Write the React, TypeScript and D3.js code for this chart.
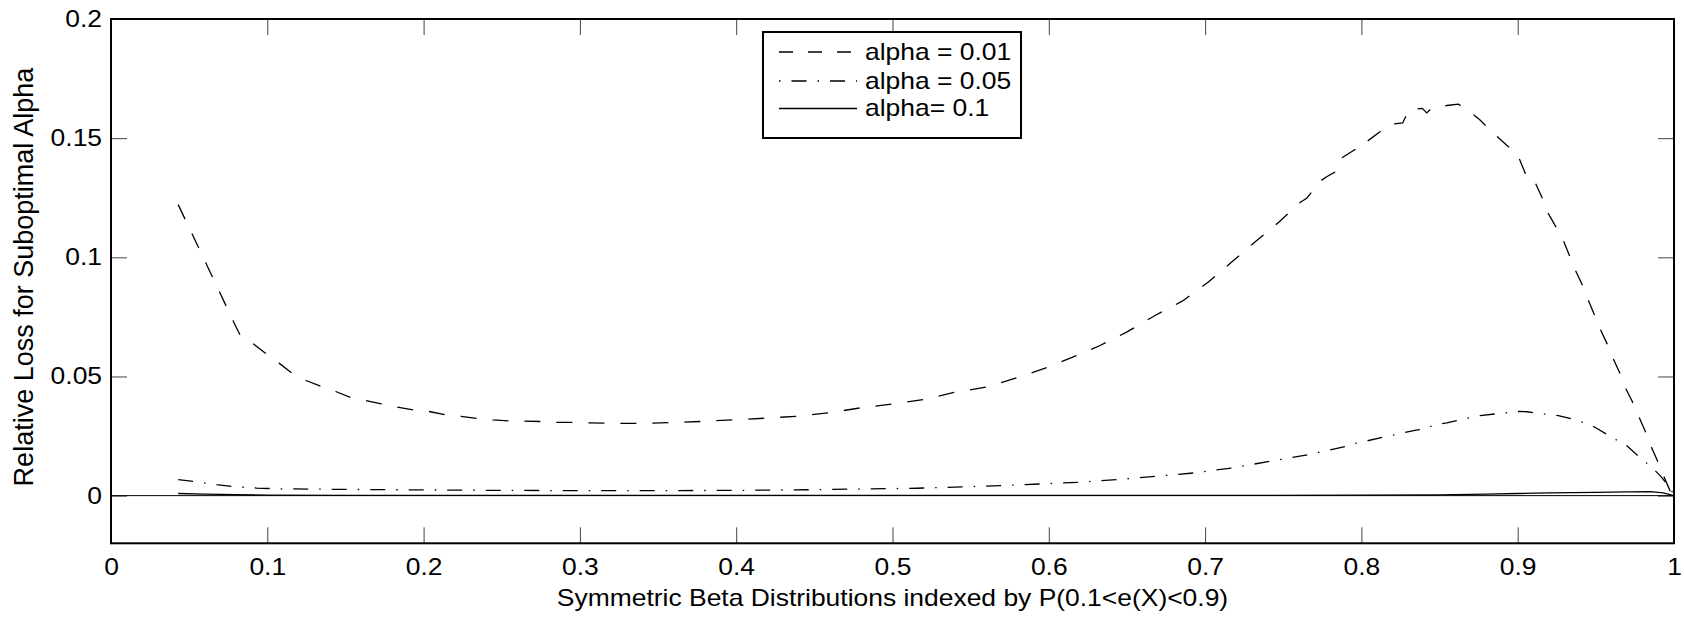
import React, { useEffect, useRef } from "react";
import * as d3 from "d3";

// tick values
const xTicks = [0, 0.1, 0.2, 0.3, 0.4, 0.5, 0.6, 0.7, 0.8, 0.9, 1];
const yTicks = [0, 0.05, 0.1, 0.15, 0.2];
const legendLabels = ["alpha = 0.01", "alpha = 0.05", "alpha= 0.1"];

// alpha = 0.01 (dashed)
const xAlpha01 = [
  0.043, 0.0516, 0.0604, 0.0693, 0.078, 0.0825, 0.091, 0.0992, 0.1075, 0.1156,
  0.1248, 0.1342, 0.1438, 0.1531, 0.1632, 0.1729, 0.1832, 0.1934, 0.2035, 0.2135,
  0.2239, 0.234, 0.2442, 0.2544, 0.2647, 0.2749, 0.2852, 0.2954, 0.3056, 0.3159,
  0.3261, 0.3363, 0.3466, 0.3768, 0.398, 0.4184, 0.4387, 0.4589, 0.4792, 0.4995,
  0.5197, 0.5393, 0.5598, 0.5794, 0.5986, 0.6178, 0.6328, 0.6498, 0.668, 0.6856,
  0.7021, 0.717, 0.7319, 0.7473, 0.7607, 0.765, 0.7746, 0.7778, 0.7831, 0.7867,
  0.7959, 0.8002, 0.8023, 0.8119, 0.8177, 0.8264, 0.8305, 0.839, 0.8418, 0.846,
  0.8546, 0.862, 0.869, 0.8759, 0.883, 0.893, 0.9, 0.905, 0.909, 0.9164,
  0.919, 0.9239, 0.9292, 0.9331, 0.9367, 0.941, 0.9448, 0.9488, 0.9527, 0.957,
  0.9608, 0.9651, 0.9687, 0.973, 0.9772, 0.9814, 0.9851, 0.9889, 0.9928, 0.9974,
  1.0,
];
const lossAlpha01 = [
  0.1221, 0.1102, 0.098, 0.0857, 0.0735, 0.0675, 0.0637, 0.0595, 0.0556, 0.0515,
  0.0483, 0.0459, 0.0437, 0.0412, 0.0399, 0.0385, 0.0371, 0.036, 0.0353, 0.034,
  0.0333, 0.0324, 0.0318, 0.0314, 0.0313, 0.0311, 0.0308, 0.0307, 0.0305, 0.0304,
  0.0303, 0.0303, 0.0304, 0.0311, 0.0318, 0.0325, 0.0333, 0.0347, 0.0368, 0.0384,
  0.0403, 0.0433, 0.0455, 0.0494, 0.0537, 0.0588, 0.063, 0.0686, 0.0756, 0.0817,
  0.0896, 0.098, 0.1064, 0.1148, 0.123, 0.1248, 0.1324, 0.1338, 0.1358, 0.1414,
  0.1452, 0.1482, 0.148, 0.1527, 0.1558, 0.1564, 0.162, 0.1625, 0.1606, 0.1632,
  0.1637, 0.1643, 0.1613, 0.1576, 0.153, 0.147, 0.143, 0.135, 0.1345, 0.1239,
  0.119, 0.1134, 0.1071, 0.1008, 0.0948, 0.0889, 0.0826, 0.0763, 0.07, 0.064,
  0.0579, 0.0518, 0.0455, 0.0399, 0.0336, 0.0273, 0.021, 0.0154, 0.0091, 0.0021,
  0,
];

// alpha = 0.05 (dash-dot)
const xAlpha05 = [
  0.043, 0.0527, 0.0676, 0.078, 0.093, 0.106, 0.1167, 0.15, 0.2, 0.25,
  0.3, 0.35, 0.4, 0.45, 0.5155, 0.5699, 0.5944, 0.6189, 0.6434, 0.668,
  0.6925, 0.717, 0.7415, 0.766, 0.7906, 0.7948, 0.814, 0.835, 0.8418, 0.846,
  0.8546, 0.8631, 0.8759, 0.8887, 0.9002, 0.906, 0.913, 0.926, 0.9388, 0.9494,
  0.9603, 0.9697, 0.9782, 0.9869, 0.9911, 0.9974, 1.0,
];
const lossAlpha05 = [
  0.0067, 0.006, 0.0046, 0.0038, 0.0032, 0.0029, 0.0028, 0.0026, 0.0024, 0.0022,
  0.0021, 0.0021, 0.0022, 0.0025, 0.0031, 0.0042, 0.0049, 0.0056, 0.0067, 0.0081,
  0.0095, 0.0116, 0.0144, 0.0172, 0.0207, 0.0217, 0.0245, 0.0275, 0.028, 0.0297,
  0.0305, 0.0318, 0.0336, 0.0345, 0.0353, 0.0352, 0.0345, 0.0336, 0.0315, 0.0287,
  0.0244, 0.021, 0.016, 0.0112, 0.0084, 0.0035, 0,
];

// alpha = 0.1 (solid)
const xAlpha10 = [
  0.043, 0.06, 0.08, 0.1, 0.15, 0.2, 0.3, 0.4, 0.5, 0.6, 0.7, 0.8, 0.85, 0.88,
  0.9, 0.92, 0.95, 0.97, 0.985, 0.993, 1.0,
];
const lossAlpha10 = [
  0.0009, 0.0006, 0.0004, 0.0002, 0.0001, 0.0001, 0.0001, 0.0001, 0.0001, 0.0001,
  0.0001, 0.0002, 0.0003, 0.0006, 0.0009, 0.0012, 0.0014, 0.0016, 0.0017, 0.0012, 0,
];

const width = 1684;
const height = 617;
const margin = { top: 19, right: 10, bottom: 73.7, left: 111 };
const STRETCH = 1.15; // the source picture is wider than its font
const FONT = "'Liberation Sans', Arial, Helvetica, sans-serif";
const FONT_SIZE = 23;

function App() {
  const ref = useRef<SVGSVGElement>(null);

  useEffect(() => {
    drawChart();
  }, []);

  const drawChart = () => {
    const svg = d3.select(ref.current);
    svg.selectAll("*").remove();

    const innerLeft = margin.left;
    const innerRight = width - margin.right;
    const innerTop = margin.top;
    const innerBottom = height - margin.bottom;

    const xScale = d3.scaleLinear().domain([0, 1]).range([innerLeft, innerRight]);
    const yScale = d3.scaleLinear().domain([-0.02, 0.2]).range([innerBottom, innerTop]);

    svg.append("rect")
      .attr("width", width)
      .attr("height", height)
      .attr("fill", "#fff");

    const fmt = (d: number) => String(d);

    // bottom axis with labels
    const xAxisG = svg.append("g")
      .attr("transform", `translate(0, ${innerBottom})`)
      .call(d3.axisBottom(xScale).tickValues(xTicks).tickSize(-16).tickPadding(15.4).tickFormat(fmt as any));

    // left axis with labels
    const yAxisG = svg.append("g")
      .attr("transform", `translate(${innerLeft}, 0)`)
      .call(d3.axisLeft(yScale).tickValues(yTicks).tickSize(-16).tickPadding(7.8).tickFormat(fmt as any));

    // top and right ticks, no labels
    const topG = svg.append("g")
      .attr("transform", `translate(0, ${innerTop})`)
      .call(d3.axisTop(xScale).tickValues(xTicks).tickSize(-16).tickFormat(() => ""));
    const rightG = svg.append("g")
      .attr("transform", `translate(${innerRight}, 0)`)
      .call(d3.axisRight(yScale).tickValues(yTicks).tickSize(-16).tickFormat(() => ""));

    [xAxisG, yAxisG, topG, rightG].forEach((g) => {
      g.select(".domain").remove();
      g.selectAll(".tick line").attr("stroke", "#444").attr("stroke-width", 1);
      g.selectAll(".tick text")
        .attr("fill", "#000")
        .attr("font-family", FONT)
        .attr("font-size", FONT_SIZE)
        .attr("transform", `scale(${STRETCH},1)`);
    });

    // zero reference line
    svg.append("line")
      .attr("x1", xScale(0))
      .attr("x2", xScale(1))
      .attr("y1", yScale(0))
      .attr("y2", yScale(0))
      .attr("stroke", "#000")
      .attr("stroke-width", 1);

    const series = [
      { xs: xAlpha01, ys: lossAlpha01, dash: "16,16" },
      { xs: xAlpha05, ys: lossAlpha05, dash: "15,11,1.5,11" },
      { xs: xAlpha10, ys: lossAlpha10, dash: null },
    ];

    const line = d3.line<[number, number]>()
      .x((d) => xScale(d[0]))
      .y((d) => yScale(d[1]));

    series.forEach((s) => {
      const pts = s.xs.map((x, i) => [x, s.ys[i]] as [number, number]);
      svg.append("path")
        .attr("d", line(pts))
        .attr("fill", "none")
        .attr("stroke", "#000")
        .attr("stroke-width", 1.3)
        .attr("stroke-dasharray", s.dash);
    });

    // plot box
    svg.append("rect")
      .attr("x", innerLeft)
      .attr("y", innerTop)
      .attr("width", innerRight - innerLeft)
      .attr("height", innerBottom - innerTop)
      .attr("fill", "none")
      .attr("stroke", "#000")
      .attr("stroke-width", 2);

    const addText = (txt: string, x: number, y: number, anchor: string) => {
      svg.append("text")
        .attr("transform", `translate(${x}, ${y}) scale(${STRETCH},1)`)
        .attr("text-anchor", anchor)
        .attr("font-family", FONT)
        .attr("font-size", FONT_SIZE)
        .attr("fill", "#000")
        .text(txt);
    };

    // axis titles
    addText("Symmetric Beta Distributions indexed by P(0.1<e(X)<0.9)", (innerLeft + innerRight) / 2, 606, "middle");
    svg.append("text")
      .attr("transform", `translate(33, 277) rotate(-90)`)
      .attr("text-anchor", "middle")
      .attr("font-family", FONT)
      .attr("font-size", 27)
      .attr("fill", "#000")
      .text("Relative Loss for Suboptimal Alpha");

    // legend
    const legend = svg.append("g");
    legend.append("rect")
      .attr("x", 763)
      .attr("y", 32)
      .attr("width", 258)
      .attr("height", 106)
      .attr("fill", "#fff")
      .attr("stroke", "#000")
      .attr("stroke-width", 2);

    const rowY = [52, 81, 108.5];
    const legendDash = ["14,15", "1.5,11,15,11", null];
    legendLabels.forEach((lab, i) => {
      legend.append("line")
        .attr("x1", 779)
        .attr("x2", 857)
        .attr("y1", rowY[i])
        .attr("y2", rowY[i])
        .attr("stroke", "#000")
        .attr("stroke-width", 1.3)
        .attr("stroke-dasharray", legendDash[i]);
      addText(lab, 865, rowY[i] + 7.5, "start");
    });
  };

  return (
    <svg
      ref={ref}
      width={width}
      height={height}
      style={{ position: "absolute", left: 0, top: 0, display: "block" }}
    />
  );
}

export default App;
